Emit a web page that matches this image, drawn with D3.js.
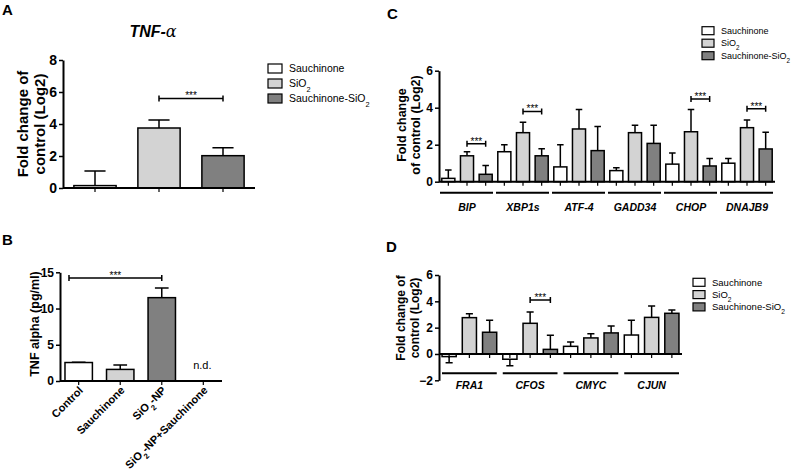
<!DOCTYPE html>
<meta charset='utf-8'>
<style>
  body { margin: 0; background: #fff; }
  svg text { font-family: "Liberation Sans", Arial, sans-serif; fill: #000; }
  .axis text { font-weight: bold; }
  .bar { stroke: #000; stroke-width: 1.5; }
  .err { stroke: #000; stroke-width: 1.5; fill: none; }
  .letter { font-weight: bold; font-size: 15px; }
  .gene { font-weight: bold; font-style: italic; font-size: 10.5px; }
  .ylab { font-weight: bold; }
</style>

<svg width="791" height="472"></svg>

<script src="https://d3js.org/d3.v7.min.js"></script>

<script>

// series shared by A, C, D
var series = ["Sauchinone", "SiO2", "Sauchinone-SiO2"];
var fills = ["#ffffff", "#d3d3d3", "#808080"];

// A - TNF-alpha
var aMean = [0.15, 3.75, 2.02];
var aErr = [0.92, 0.5, 0.5];
var aTicks = [0, 2, 4, 6, 8];

// B - TNF alpha (pg/ml)
var bCategories = ["Control", "Sauchinone", "SiO2-NP", "SiO2-NP+Sauchinone"];
var bMean = [2.55, 1.6, 11.5, null];
var bErr = [0.05, 0.6, 1.35, null];
var bTicks = [0, 5, 10, 15];

// C - ER stress genes
var cGenes = ["BIP", "XBP1s", "ATF-4", "GADD34", "CHOP", "DNAJB9"];
var cSauch = [0.18, 1.62, 0.8, 0.6, 0.95, 1.0];
var cSauchErr = [0.45, 0.38, 1.2, 0.16, 0.6, 0.25];
var cSiO2 = [1.4, 2.65, 2.85, 2.65, 2.7, 2.92];
var cSiO2Err = [0.22, 0.57, 1.05, 0.4, 1.2, 0.42];
var cCombo = [0.4, 1.4, 1.68, 2.07, 0.85, 1.77];
var cComboErr = [0.48, 0.38, 1.3, 0.98, 0.4, 0.9];
var cSigGenes = ["BIP", "XBP1s", "CHOP", "DNAJB9"];
var cSigLevel = [2.05, 3.8, 4.47, 3.95];
var cTicks = [0, 2, 4, 6];

// D - early response genes
var dGenes = ["FRA1", "CFOS", "CMYC", "CJUN"];
var dSauch = [-0.2, -0.4, 0.58, 1.44];
var dSauchErr = [0.46, 0.49, 0.33, 1.12];
var dSiO2 = [2.76, 2.33, 1.22, 2.78];
var dSiO2Err = [0.3, 0.86, 0.32, 0.87];
var dCombo = [1.65, 0.35, 1.6, 3.09];
var dComboErr = [0.91, 1.07, 0.53, 0.25];
var dSigGenes = ["CFOS"];
var dSigLevel = [4.1];
var dTicks = [-2, 0, 2, 4, 6];

var svg = d3.select("svg");

svg.append("rect")
  .attr("width", 791)
  .attr("height", 472)
  .attr("fill", "#fff");

// writes "SiO2" with a subscript 2
function chem(t, s) {
  var parts = s.split("SiO2");
  parts.forEach(function(p, i) {
    if (i > 0) {
      t.append("tspan").text("SiO");
      t.append("tspan").attr("baseline-shift", "sub").style("font-size", "0.7em").text("2");
    }
    if (p) t.append("tspan").text(p);
  });
}

function yAxis(x0, y, ticks, fs) {
  var g = svg.append("g")
    .attr("class", "axis")
    .attr("transform", "translate(" + x0 + ",0)")
    .call(d3.axisLeft(y).tickValues(ticks).tickFormat(d3.format("d"))
      .tickSize(4).tickSizeOuter(0).tickPadding(2));
  g.attr("font-family", null).attr("font-size", null);
  g.selectAll("text").style("font-size", fs + "px");
  g.select(".domain").attr("stroke-width", 2);
  g.selectAll(".tick line").attr("stroke-width", 1.5);
}

function xBase(x1, x2, yy, centers) {
  svg.append("line")
    .attr("x1", x1).attr("x2", x2)
    .attr("y1", yy).attr("y2", yy)
    .attr("stroke", "#000").attr("stroke-width", 2);
  svg.append("g").selectAll("line")
    .data(centers)
    .enter()
    .append("line")
    .attr("x1", d => d).attr("x2", d => d)
    .attr("y1", yy).attr("y2", yy + 4)
    .attr("stroke", "#000").attr("stroke-width", 1.2);
}

function bars(items, y) {
  var g = svg.append("g");
  g.selectAll("path")
    .data(items)
    .enter()
    .append("path")
    .attr("class", "err")
    .attr("d", function(d) {
      var cx = d.x + d.w / 2,
        tip = d.v >= 0 ? d.v + d.e : d.v - d.e;
      return "M" + cx + "," + y(d.v) + "V" + y(tip) +
        "M" + (cx - d.w / 4) + "," + y(tip) + "H" + (cx + d.w / 4);
    });
  g.selectAll("rect")
    .data(items)
    .enter()
    .append("rect")
    .attr("class", "bar")
    .attr("x", d => d.x)
    .attr("width", d => d.w)
    .attr("y", d => y(Math.max(0, d.v)))
    .attr("height", d => Math.abs(y(d.v) - y(0)))
    .attr("fill", d => d.fill);
}

function bracket(xa, xb, yy) {
  svg.append("path")
    .attr("class", "err")
    .attr("d", "M" + xa + "," + (yy - 3) + "V" + (yy + 3) +
      "M" + xa + "," + yy + "H" + xb +
      "M" + xb + "," + (yy - 3) + "V" + (yy + 3));
  svg.append("text")
    .attr("x", (xa + xb) / 2)
    .attr("y", yy + 1)
    .attr("text-anchor", "middle")
    .style("font-size", "10px")
    .text("***");
}

function legend(x0, y0, dy, bw, bh, fs) {
  series.forEach(function(s, i) {
    svg.append("rect")
      .attr("x", x0).attr("y", y0 + i * dy - bh / 2)
      .attr("width", bw).attr("height", bh)
      .attr("fill", fills[i])
      .attr("stroke", "#000").attr("stroke-width", 1.2);
    var t = svg.append("text")
      .attr("x", x0 + bw + 7)
      .attr("y", y0 + i * dy + fs * 0.36)
      .style("font-size", fs + "px");
    chem(t, s);
  });
}

function yLabel(lines, cx, cy, fs, gap) {
  lines.forEach(function(l, i) {
    svg.append("text")
      .attr("class", "ylab")
      .attr("transform", "translate(" + (cx + i * gap) + "," + cy + ") rotate(-90)")
      .attr("text-anchor", "middle")
      .style("font-size", fs + "px")
      .text(l);
  });
}

// ---------- panel A ----------
var xA = d3.scaleBand().domain(series).range([63, 255]).paddingInner(0.34).paddingOuter(0.17);
var yA = d3.scaleLinear().domain([0, 8]).range([188, 60]);

svg.append("text").attr("class", "letter").attr("x", 2).attr("y", 15).text("A");
var title = svg.append("text")
  .attr("x", 153).attr("y", 37)
  .attr("text-anchor", "middle")
  .style("font-size", "16px")
  .style("font-weight", "bold")
  .style("font-style", "italic");
title.append("tspan").text("TNF-");
title.append("tspan").style("font-family", "'DejaVu Serif', serif").style("font-weight", "normal").text("α");

bars(series.map(function(s, i) {
  return { x: xA(s), w: xA.bandwidth(), v: aMean[i], e: aErr[i], fill: fills[i] };
}), yA);
xBase(63, 255, yA(0), series.map(s => xA(s) + xA.bandwidth() / 2));
yAxis(63, yA, aTicks, 14);
bracket(xA(series[1]) + xA.bandwidth() / 2, xA(series[2]) + xA.bandwidth() / 2, yA(5.6));
yLabel(["Fold change of", "control (Log2)"], 28, 124, 15, 16.5);
legend(268, 68.5, 15, 14, 9, 10.5);

// ---------- panel B ----------
var xB = d3.scaleBand().domain(bCategories).range([60, 222]).paddingInner(0.34).paddingOuter(0.12);
var yB = d3.scaleLinear().domain([0, 15]).range([381, 272.3]);
var bFills = [fills[0], fills[1], fills[2], "none"];

svg.append("text").attr("class", "letter").attr("x", 2).attr("y", 245).text("B");
bars(bCategories.map(function(c, i) {
  return { x: xB(c), w: xB.bandwidth(), v: bMean[i], e: bErr[i], fill: bFills[i] };
}).filter(d => d.v != null), yB);
xBase(60, 222, yB(0), bCategories.map(c => xB(c) + xB.bandwidth() / 2));
yAxis(60, yB, bTicks, 12);
bracket(xB(bCategories[0]) + 4, xB(bCategories[2]) + xB.bandwidth() / 2, yB(14.2));
yLabel(["TNF alpha (pg/ml)"], 39, 324, 12.5, 0);

svg.append("text")
  .attr("x", xB(bCategories[3]) + xB.bandwidth() / 2 - 1)
  .attr("y", 369)
  .attr("text-anchor", "middle")
  .style("font-size", "11px")
  .text("n.d.");

bCategories.forEach(function(c) {
  var t = svg.append("text")
    .attr("transform", "translate(" + (xB(c) + xB.bandwidth() / 2 + 5) + "," + (yB(0) + 10) + ") rotate(-45)")
    .attr("text-anchor", "end")
    .style("font-size", "11px")
    .style("font-weight", "bold");
  chem(t, c);
});

// ---------- panel C ----------
var x0C = d3.scaleBand().domain(cGenes).range([439, 775]);
var x1C = d3.scaleBand().domain(series).range([0, x0C.bandwidth()]).paddingInner(0.3).paddingOuter(0.15);
var yC = d3.scaleLinear().domain([0, 6]).range([181.7, 70.7]);
var cVals = [cSauch, cSiO2, cCombo];
var cErrs = [cSauchErr, cSiO2Err, cComboErr];

svg.append("text").attr("class", "letter").attr("x", 387).attr("y", 19).text("C");

var cItems = [];
cGenes.forEach(function(gn, gi) {
  series.forEach(function(s, si) {
    cItems.push({ x: x0C(gn) + x1C(s), w: x1C.bandwidth(), v: cVals[si][gi], e: cErrs[si][gi], fill: fills[si] });
  });
});
bars(cItems, yC);
xBase(439, 775, yC(0), cItems.map(d => d.x + d.w / 2));
yAxis(439, yC, cTicks, 12);
cSigGenes.forEach(function(gn, i) {
  bracket(x0C(gn) + x1C(series[1]) + x1C.bandwidth() / 2, x0C(gn) + x1C(series[2]) + x1C.bandwidth() / 2, yC(cSigLevel[i]));
});
cGenes.forEach(function(gn) {
  svg.append("line")
    .attr("x1", x0C(gn) + 1).attr("x2", x0C(gn) + x0C.bandwidth() - 2)
    .attr("y1", 192.7).attr("y2", 192.7)
    .attr("stroke", "#000").attr("stroke-width", 2);
  svg.append("text")
    .attr("class", "gene")
    .attr("x", x0C(gn) + x0C.bandwidth() / 2)
    .attr("y", 210.5)
    .attr("text-anchor", "middle")
    .text(gn);
});
yLabel(["Fold change", "of control (Log2)"], 406, 125, 12.5, 14);
legend(702, 30.7, 12.5, 12, 8, 9);

// ---------- panel D ----------
var x0D = d3.scaleBand().domain(dGenes).range([439, 682]);
var x1D = d3.scaleBand().domain(series).range([0, x0D.bandwidth()]).paddingInner(0.3).paddingOuter(0.15);
var yD = d3.scaleLinear().domain([-2, 6]).range([380.3, 275]);
var dVals = [dSauch, dSiO2, dCombo];
var dErrs = [dSauchErr, dSiO2Err, dComboErr];

svg.append("text").attr("class", "letter").attr("x", 386).attr("y", 252).text("D");

var dItems = [];
dGenes.forEach(function(gn, gi) {
  series.forEach(function(s, si) {
    dItems.push({ x: x0D(gn) + x1D(s), w: x1D.bandwidth(), v: dVals[si][gi], e: dErrs[si][gi], fill: fills[si] });
  });
});
bars(dItems, yD);
xBase(439, 682, yD(0), dItems.map(d => d.x + d.w / 2));
yAxis(439, yD, dTicks, 12);
dSigGenes.forEach(function(gn, i) {
  bracket(x0D(gn) + x1D(series[1]) + x1D.bandwidth() / 2, x0D(gn) + x1D(series[2]) + x1D.bandwidth() / 2, yD(dSigLevel[i]));
});
dGenes.forEach(function(gn) {
  svg.append("line")
    .attr("x1", x0D(gn) + 3).attr("x2", x0D(gn) + x0D.bandwidth() - 3)
    .attr("y1", 373.3).attr("y2", 373.3)
    .attr("stroke", "#000").attr("stroke-width", 2);
  svg.append("text")
    .attr("class", "gene")
    .attr("x", x0D(gn) + x0D.bandwidth() / 2)
    .attr("y", 389)
    .attr("text-anchor", "middle")
    .text(gn);
});
yLabel(["Fold change of", "control (Log2)"], 405, 318, 12, 14);
legend(693, 282.3, 12.3, 12, 8, 9.5);

</script>
